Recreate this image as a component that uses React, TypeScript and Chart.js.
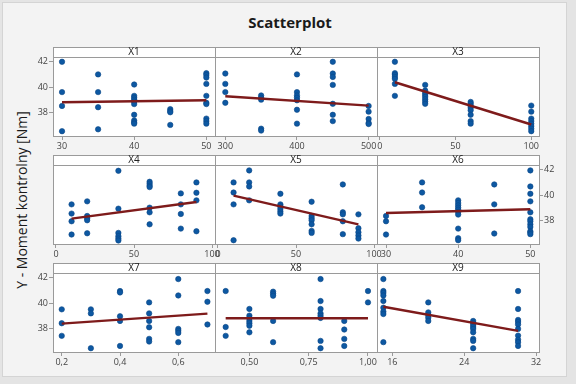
import React, { useEffect, useRef } from "react";
import { Chart, registerables } from "chart.js";

Chart.register(...registerables);

// ---------- data ----------
const panelNames = ["X1", "X2", "X3", "X4", "X5", "X6", "X7", "X8", "X9"];
const yTicks = [38, 40, 42];
const yRange = [36.12, 42.38];

const x1 = [30, 30, 30, 30, 35, 35, 35, 35, 40, 40, 40, 40, 40, 40, 40, 40, 40, 40, 45, 45, 45, 45, 50, 50, 50, 50, 50, 50, 50, 50, 50, 50];
const y1 = [42.0, 39.6, 38.5, 36.5, 41.0, 39.6, 38.4, 36.65, 40.2, 39.3, 39.15, 39.0, 38.85, 38.65, 37.8, 37.35, 37.2, 37.1, 38.25, 38.1, 38.0, 37.0, 41.1, 40.95, 40.75, 40.25, 39.3, 38.75, 38.65, 37.5, 37.3, 37.1];
const fitX1 = [30, 50];
const fitY1 = [38.8, 38.95];
const ticksX1 = [30, 40, 50];
const rangeX1 = [28.75, 51.2];

const x2 = [300, 300, 300, 300, 350, 350, 350, 350, 350, 400, 400, 400, 400, 400, 400, 400, 450, 450, 450, 450, 450, 450, 450, 500, 500, 500, 500, 500];
const y2 = [41.07, 40.25, 39.6, 38.75, 39.33, 39.15, 39.0, 36.7, 36.55, 41.0, 39.6, 39.33, 39.15, 38.95, 38.2, 37.1, 42.0, 41.07, 40.8, 40.17, 38.67, 37.8, 37.3, 38.5, 38.05, 37.47, 37.15, 37.07];
const fitX2 = [300, 500];
const fitY2 = [39.27, 38.53];
const ticksX2 = [300, 400, 500];
const rangeX2 = [285.6, 511.7];

const x3 = [10, 10, 10, 10, 10, 10, 10, 30, 30, 30, 30, 30, 30, 30, 30, 60, 60, 60, 60, 60, 60, 60, 60, 100, 100, 100, 100, 100, 100, 100, 100];
const y3 = [42.0, 41.1, 40.97, 40.8, 40.65, 40.25, 39.3, 40.17, 39.72, 39.54, 39.38, 39.22, 39.03, 38.85, 38.67, 38.82, 38.67, 38.5, 38.35, 38.16, 37.8, 37.3, 37.1, 38.53, 38.05, 37.5, 37.3, 37.1, 36.9, 36.7, 36.5];
const fitX3 = [10, 100];
const fitY3 = [40.38, 37.03];
const ticksX3 = [0, 50, 100];
const rangeX3 = [-1.8, 105.1];

const x4 = [10, 10, 10, 10, 20, 20, 20, 20, 20, 40, 40, 40, 40, 40, 40, 60, 60, 60, 60, 60, 60, 60, 80, 80, 80, 80, 90, 90, 90, 90];
const y4 = [39.26, 38.53, 37.92, 36.87, 39.5, 38.34, 38.16, 38.0, 36.97, 41.92, 38.92, 37.0, 36.74, 36.55, 36.4, 41.05, 40.9, 40.74, 40.63, 39.0, 38.63, 37.68, 40.13, 39.26, 38.5, 37.34, 41.0, 40.18, 39.58, 37.13];
const fitX4 = [10, 90];
const fitY4 = [38.13, 39.45];
const ticksX4 = [0, 50, 100];
const rangeX4 = [-1.9, 101.9];

const x5 = [10, 10, 10, 10, 20, 20, 20, 20, 40, 40, 40, 40, 40, 40, 60, 60, 60, 60, 60, 60, 60, 80, 80, 80, 80, 80, 90, 90, 90, 90, 90];
const y5 = [41.0, 40.2, 39.26, 36.42, 41.95, 41.0, 40.68, 39.58, 40.1, 39.26, 39.1, 38.9, 38.7, 38.53, 39.47, 38.34, 38.16, 38.0, 37.68, 37.16, 37.0, 40.84, 38.63, 38.47, 37.92, 36.9, 38.47, 37.37, 37.05, 36.79, 36.55];
const fitX5 = [10, 90];
const fitY5 = [39.95, 37.68];
const ticksX5 = [0, 50, 100];
const rangeX5 = [-1.9, 101.9];

const x6 = [30, 30, 30, 35, 35, 35, 40, 40, 40, 40, 40, 40, 40, 40, 40, 40, 45, 45, 45, 50, 50, 50, 50, 50, 50, 50, 50, 50, 50, 50, 50];
const y6 = [38.34, 37.92, 36.87, 41.0, 40.2, 39.03, 39.58, 39.37, 39.18, 39.0, 38.84, 38.66, 38.45, 37.34, 36.58, 36.42, 40.84, 39.26, 36.95, 41.95, 40.68, 40.1, 39.5, 38.63, 38.08, 37.92, 37.68, 37.47, 37.13, 37.03, 36.9];
const fitX6 = [30, 50];
const fitY6 = [38.58, 38.87];
const ticksX6 = [30, 40, 50];
const rangeX6 = [28.75, 51.2];

const x7 = [0.2, 0.2, 0.2, 0.3, 0.3, 0.3, 0.4, 0.4, 0.4, 0.4, 0.4, 0.5, 0.5, 0.5, 0.5, 0.5, 0.5, 0.6, 0.6, 0.6, 0.6, 0.6, 0.6, 0.7, 0.7, 0.7];
const y7 = [39.5, 38.4, 37.4, 39.5, 39.18, 36.42, 40.95, 40.84, 38.95, 38.58, 36.6, 40.05, 39.18, 38.58, 38.08, 37.16, 36.95, 41.9, 40.6, 37.95, 37.8, 37.63, 36.9, 40.95, 40.1, 38.3];
const fitX7 = [0.2, 0.7];
const fitY7 = [38.37, 39.16];
const ticksX7 = [0.2, 0.4, 0.6];
const rangeX7 = [0.17, 0.726];

const x8 = [0.4, 0.4, 0.4, 0.5, 0.5, 0.5, 0.5, 0.5, 0.5, 0.5, 0.6, 0.6, 0.6, 0.6, 0.6, 0.8, 0.8, 0.8, 0.8, 0.8, 0.8, 0.8, 0.8, 0.9, 0.9, 0.9, 0.9, 1.0, 1.0];
const y8 = [40.95, 38.1, 37.4, 39.53, 39.0, 38.8, 38.58, 38.4, 38.2, 37.68, 40.9, 40.74, 40.58, 38.58, 36.9, 41.9, 40.16, 39.53, 39.18, 39.0, 38.82, 37.0, 36.42, 38.58, 37.9, 37.16, 36.6, 40.95, 40.05];
const fitX8 = [0.4, 1.0];
const fitY8 = [38.79, 38.79];
const ticksX8 = [0.5, 0.75, 1.0];
const rangeX8 = [0.355, 1.038];

const x9 = [15, 15, 15, 15, 15, 15, 15, 15, 15, 20, 20, 20, 20, 20, 25, 25, 25, 25, 25, 25, 25, 25, 25, 30, 30, 30, 30, 30, 30, 30, 30, 30, 30];
const y9 = [41.9, 40.95, 40.8, 40.6, 40.16, 39.63, 39.32, 39.13, 36.9, 40.05, 39.26, 39.05, 38.84, 38.58, 38.58, 38.42, 38.26, 38.1, 37.95, 37.68, 37.16, 37.0, 36.42, 40.95, 39.53, 38.66, 38.5, 38.3, 37.95, 37.42, 37.1, 36.9, 36.6];
const fitX9 = [15, 30];
const fitY9 = [39.71, 37.79];
const ticksX9 = [16, 24, 32];
const rangeX9 = [14.29, 32.33];

const titleText = "Scatterplot";
const yLabelText = "Y - Moment kontrolny [Nm]";

// ---------- layout ----------
const W = 576;
const H = 384;
const colEdges = [53, 215, 377, 539];
const headerTops = [47, 155, 263];
const plotTops = [57, 165, 273];
const plotBottoms = [136, 244, 352];
const FONT = "'Open Sans', 'Noto Sans', 'DejaVu Sans', sans-serif";
const POINT_FILL = "#0d58a2";
const POINT_EDGE = "#0a4686";
const FIT_COLOR = "#7e1b1b";
const FRAME = "#9a9a9a";

type PanelSpec = {
  name: string;
  xs: number[];
  ys: number[];
  fx: number[];
  fy: number[];
  ticks: number[];
  range: number[];
  decimals: number;
  yAxis: "left" | "right" | null;
  row: number;
  col: number;
};

const panels: PanelSpec[] = [
  { name: panelNames[0], xs: x1, ys: y1, fx: fitX1, fy: fitY1, ticks: ticksX1, range: rangeX1, decimals: 0, yAxis: "left", row: 0, col: 0 },
  { name: panelNames[1], xs: x2, ys: y2, fx: fitX2, fy: fitY2, ticks: ticksX2, range: rangeX2, decimals: 0, yAxis: null, row: 0, col: 1 },
  { name: panelNames[2], xs: x3, ys: y3, fx: fitX3, fy: fitY3, ticks: ticksX3, range: rangeX3, decimals: 0, yAxis: null, row: 0, col: 2 },
  { name: panelNames[3], xs: x4, ys: y4, fx: fitX4, fy: fitY4, ticks: ticksX4, range: rangeX4, decimals: 0, yAxis: null, row: 1, col: 0 },
  { name: panelNames[4], xs: x5, ys: y5, fx: fitX5, fy: fitY5, ticks: ticksX5, range: rangeX5, decimals: 0, yAxis: null, row: 1, col: 1 },
  { name: panelNames[5], xs: x6, ys: y6, fx: fitX6, fy: fitY6, ticks: ticksX6, range: rangeX6, decimals: 0, yAxis: "right", row: 1, col: 2 },
  { name: panelNames[6], xs: x7, ys: y7, fx: fitX7, fy: fitY7, ticks: ticksX7, range: rangeX7, decimals: 1, yAxis: "left", row: 2, col: 0 },
  { name: panelNames[7], xs: x8, ys: y8, fx: fitX8, fy: fitY8, ticks: ticksX8, range: rangeX8, decimals: 2, yAxis: null, row: 2, col: 1 },
  { name: panelNames[8], xs: x9, ys: y9, fx: fitX9, fy: fitY9, ticks: ticksX9, range: rangeX9, decimals: 0, yAxis: null, row: 2, col: 2 },
];

const Y_AXIS_W = 26;
const X_AXIS_H = 22;

function fmt(v: number, decimals: number): string {
  return decimals > 0 ? v.toFixed(decimals).replace(".", ",") : String(Math.round(v));
}

function Panel({ spec }: { spec: PanelSpec }) {
  const ref = useRef<HTMLCanvasElement | null>(null);
  useEffect(() => {
    if (!ref.current) return;
    const left = colEdges[spec.col];
    const right = colEdges[spec.col + 1];
    const top = plotTops[spec.row];
    const bottom = plotBottoms[spec.row];
    const hTop = headerTops[spec.row];
    const yW = spec.yAxis ? Y_AXIS_W : 0;

    const panelPlugin = {
      id: "panelFrame",
      beforeDraw(chart: any) {
        const ctx = chart.ctx;
        const a = chart.chartArea;
        ctx.save();
        ctx.fillStyle = "#ffffff";
        ctx.fillRect(a.left, hTop, a.right - a.left, a.bottom - hTop);
        ctx.restore();
      },
      afterDraw(chart: any) {
        const ctx = chart.ctx;
        const a = chart.chartArea;
        const L = Math.round(a.left) + 0.5;
        const R = Math.round(a.right) + 0.5;
        const T = Math.round(a.top) + 0.5;
        const B = Math.round(a.bottom) + 0.5;
        const HT = hTop + 0.5;
        ctx.save();
        ctx.strokeStyle = FRAME;
        ctx.lineWidth = 1;
        ctx.strokeRect(L, HT, R - L, B - HT);
        ctx.beginPath();
        ctx.moveTo(L, T);
        ctx.lineTo(R, T);
        ctx.stroke();
        ctx.fillStyle = "#222222";
        ctx.font = `10px ${FONT}`;
        ctx.textAlign = "center";
        ctx.textBaseline = "middle";
        ctx.fillText(spec.name, (a.left + a.right) / 2, (hTop + a.top) / 2 + 0.5);
        ctx.restore();
      },
    };

    const tickFont = { size: 9, family: FONT };
    const chart = new Chart(ref.current, {
      type: "scatter",
      data: {
        datasets: [
          {
            type: "line",
            data: spec.fx.map((x, i) => ({ x, y: spec.fy[i] })),
            borderColor: FIT_COLOR,
            borderWidth: 2.4,
            pointRadius: 0,
            fill: false,
            tension: 0,
          } as any,
          {
            data: spec.xs.map((x, i) => ({ x, y: spec.ys[i] })),
            pointRadius: 2.7,
            pointHoverRadius: 2.7,
            backgroundColor: POINT_FILL,
            borderColor: POINT_EDGE,
            borderWidth: 0.6,
            showLine: false,
          },
        ],
      },
      options: {
        animation: false,
        responsive: false,
        devicePixelRatio: 1,
        events: [],
        layout: {
          autoPadding: false,
          padding: {
            left: left - (spec.yAxis === "left" ? yW : 0),
            right: W - right - (spec.yAxis === "right" ? yW : 0),
            top: top,
            bottom: H - bottom - X_AXIS_H,
          },
        },
        plugins: {
          legend: { display: false },
          tooltip: { enabled: false },
          title: { display: false },
        },
        scales: {
          x: {
            type: "linear",
            position: "bottom",
            min: spec.range[0],
            max: spec.range[1],
            afterBuildTicks: (s: any) => {
              s.ticks = spec.ticks.map((v) => ({ value: v }));
            },
            afterFit: (s: any) => {
              s.height = X_AXIS_H;
            },
            ticks: {
              autoSkip: false,
              maxRotation: 0,
              minRotation: 0,
              padding: 1,
              font: tickFont,
              color: "#444444",
              callback: (v: any) => fmt(Number(v), spec.decimals),
            },
            grid: { display: true, drawOnChartArea: false, drawTicks: true, tickLength: 4, color: FRAME },
            border: { display: false },
          },
          y: {
            type: "linear",
            display: spec.yAxis !== null,
            position: spec.yAxis === "right" ? "right" : "left",
            min: yRange[0],
            max: yRange[1],
            afterBuildTicks: (s: any) => {
              s.ticks = yTicks.map((v) => ({ value: v }));
            },
            afterFit: (s: any) => {
              s.width = yW;
            },
            ticks: {
              padding: 1,
              font: tickFont,
              color: "#444444",
              callback: (v: any) => String(Math.round(Number(v))),
            },
            grid: { display: true, drawOnChartArea: false, drawTicks: true, tickLength: 4, color: FRAME },
            border: { display: false },
          },
        },
      } as any,
      plugins: [panelPlugin],
    });
    return () => chart.destroy();
  }, [spec]);

  return (
    <canvas
      ref={ref}
      width={W}
      height={H}
      style={{ position: "absolute", left: 0, top: 0, width: W, height: H }}
    />
  );
}

export default function App() {
  return (
    <div
      style={{
        position: "absolute",
        left: 0,
        top: 0,
        width: W,
        height: H,
        background: "#e4e4e4",
        overflow: "hidden",
        fontFamily: FONT,
      }}
    >
      <div
        style={{
          position: "absolute",
          left: 2,
          top: 2,
          width: 563,
          height: 373,
          background: "#f3f3f3",
          border: "1px solid #d4d4d4",
        }}
      />
      <div
        style={{
          position: "absolute",
          left: 0,
          top: 11,
          width: 580,
          textAlign: "center",
          fontSize: 15,
          fontWeight: 700,
          color: "#1a1a1a",
          lineHeight: "22px",
        }}
      >
        {titleText}
      </div>
      <div
        style={{
          position: "absolute",
          left: 22 - 130,
          top: 200 - 11,
          width: 260,
          height: 22,
          lineHeight: "22px",
          textAlign: "center",
          fontSize: 14,
          color: "#1a1a1a",
          transform: "rotate(-90deg)",
          transformOrigin: "50% 50%",
          whiteSpace: "nowrap",
        }}
      >
        {yLabelText}
      </div>
      {panels.map((p) => (
        <Panel key={p.name} spec={p} />
      ))}
    </div>
  );
}
